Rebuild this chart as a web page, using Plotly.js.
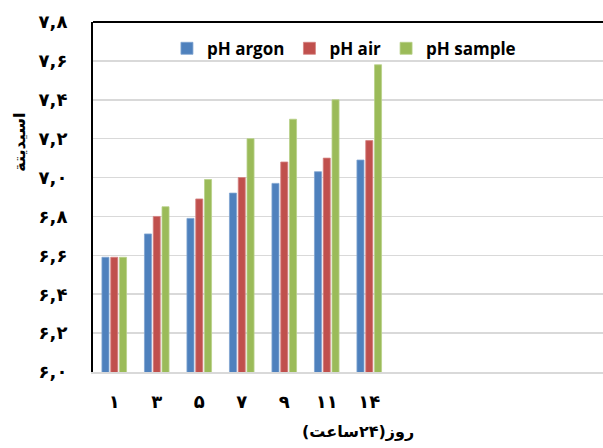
<!DOCTYPE html>
<html>
<head>
<meta charset="utf-8">
<script src="https://cdn.plot.ly/plotly-3.0.1.min.js"></script>
<style>html,body{margin:0;padding:0;background:#fff;}#chart{width:603px;height:448px;}</style>
</head>
<body>
<div id="chart"></div>
<script>
// Category labels (Persian digits); trailing empty slots exist on the reference axis
var categories = ["۱", "۳", "۵", "۷", "۹", "۱۱", "۱۴", "", "", "", "", ""];
var seriesNames = ["pH argon", "pH air", "pH sample"];
var phArgon  = [6.59, 6.71, 6.79, 6.92, 6.97, 7.03, 7.09];
var phAir    = [6.59, 6.80, 6.89, 7.00, 7.08, 7.10, 7.19];
var phSample = [6.59, 6.85, 6.99, 7.20, 7.30, 7.40, 7.58];
var yTickVals = [6.0, 6.2, 6.4, 6.6, 6.8, 7.0, 7.2, 7.4, 7.6, 7.8];
var yTickText = ["۶,۰", "۶,۲", "۶,۴", "۶,۶", "۶,۸", "۷,۰", "۷,۲", "۷,۴", "۷,۶", "۷,۸"];
var xTitle = "روز(۲۴ساعت)";
var yTitle = "اسیدیتة";

var colors = ["#4F81BD", "#C0504D", "#9BBB59"];
var edge = ["#7FA3D1", "#D48280", "#B7D089"];
var values = [phArgon, phAir, phSample];
var xIdx = categories.map(function (c, i) { return i; });

var traces = values.map(function (v, k) {
  return {
    type: "bar",
    name: seriesNames[k],
    x: xIdx.slice(0, v.length),
    y: v,
    marker: { color: colors[k], line: { color: edge[k], width: 0.8 } },
    hoverinfo: "x+y"
  };
});

var layout = {
  width: 603, height: 448,
  margin: { l: 93, r: 0, t: 22, b: 76, pad: 0 },
  paper_bgcolor: "#fff", plot_bgcolor: "#fff",
  barmode: "group", bargap: 0.38, bargroupgap: 0.2,
  showlegend: true,
  legend: {
    orientation: "h", x: 0.145, xanchor: "left", y: 0.975, yanchor: "top",
    font: { family: "Open Sans", size: 17, color: "#000", weight: "bold" },
    bgcolor: "rgba(0,0,0,0)", itemwidth: 30, traceorder: "normal"
  },
  xaxis: {
    type: "linear", range: [-0.5, categories.length - 0.5],
    tickvals: xIdx, ticktext: categories,
    showgrid: false, zeroline: false,
    showline: true, linecolor: "#D9D9D9", linewidth: 2,
    ticks: "", ticklabelstandoff: 12,
    tickfont: { family: "DejaVu Sans", size: 18, color: "#000", weight: "bold" }
  },
  yaxis: {
    range: [6.0, 7.8], tickvals: yTickVals, ticktext: yTickText,
    showgrid: true, gridcolor: "#D9D9D9", gridwidth: 1.5,
    zeroline: false, showline: true, linecolor: "#000", linewidth: 2,
    ticks: "", ticklabelstandoff: 20,
    tickfont: { family: "DejaVu Sans", size: 18, color: "#000", weight: "bold" }
  },
  shapes: [{
    type: "line", xref: "paper", yref: "paper", x0: 0, x1: 1, y0: 1, y1: 1,
    line: { color: "#000", width: 2 }
  }],
  annotations: [
    { text: xTitle, xref: "paper", yref: "paper", x: 0.52, y: -0.171, xanchor: "center", yanchor: "middle",
      showarrow: false, font: { family: "DejaVu Sans", size: 16, color: "#000", weight: "bold" } },
    { text: yTitle, xref: "paper", yref: "paper", x: -0.143, y: 0.655, xanchor: "center", yanchor: "middle",
      textangle: -90, showarrow: false, font: { family: "DejaVu Sans", size: 16, color: "#000", weight: "bold" } }
  ]
};

Plotly.newPlot("chart", traces, layout, { displayModeBar: false, staticPlot: true });
</script>
</body>
</html>
